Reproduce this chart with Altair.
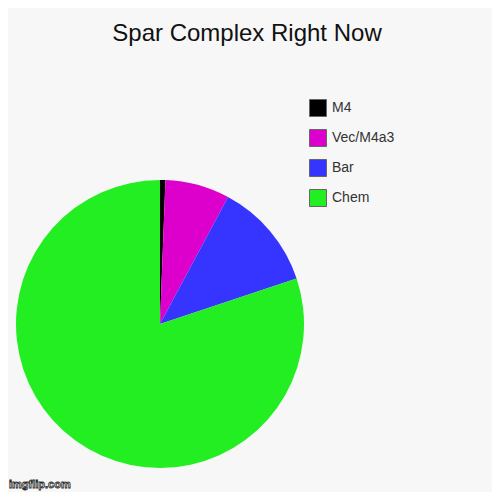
import altair as alt
import pandas as pd

categories = ["M4", "Vec/M4a3", "Bar", "Chem"]
values = [1, 12, 20, 133]
colors = ["#000000", "#dd00cc", "#3535ff", "#22ee22"]
title_text = "Spar Complex Right Now"
watermark = ["imgflip.com"]

df = pd.DataFrame({"category": categories, "value": values, "order": list(range(len(categories)))})

pie = alt.Chart(df).mark_arc(radius=144, stroke=None).encode(
    theta=alt.Theta("value:Q", stack=True),
    order=alt.Order("order:Q"),
    color=alt.Color(
        "category:N",
        scale=alt.Scale(domain=categories, range=colors),
        sort=categories,
        legend=alt.Legend(
            title=None,
            orient="none",
            legendX=301,
            legendY=31,
            symbolType="square",
            symbolSize=289,
            symbolStrokeColor="#666666",
            symbolStrokeWidth=1,
            labelFontSize=14,
            labelFont="Liberation Sans",
            labelColor="#333333",
            labelOffset=5,
            rowPadding=8,
        ),
    ),
    x=alt.value(152),
    y=alt.value(256),
)

wm = alt.Chart(pd.DataFrame({"t": watermark})).mark_text(
    font="Liberation Sans", fontSize=11, fontWeight="bold", color="white",
    stroke="#222222", strokeWidth=0.8, align="left", baseline="bottom"
).encode(text="t:N", x=alt.value(1), y=alt.value(422))

chart = alt.layer(pie, wm).properties(
    width=484,
    height=424,
    padding={"left": 0, "top": 60, "right": 0, "bottom": 0},
    autosize=alt.AutoSizeParams(type="none"),
    title=alt.TitleParams(
        title_text, fontSize=24, font="Liberation Sans", fontWeight="normal",
        color="#111111", anchor="middle", offset=22, dx=-3
    ),
).configure(background="#f7f7f7").configure_view(stroke=None)

chart.save("out.html", embed_options={"renderer": "svg", "actions": False})
